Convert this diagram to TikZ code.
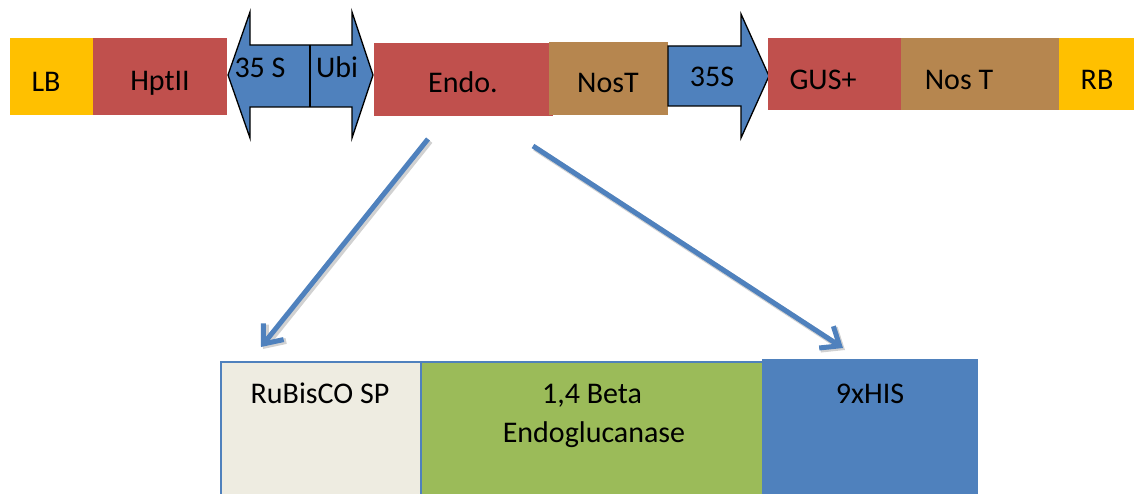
\documentclass[tikz,border=0pt]{standalone}
\usepackage{fontspec}
\setmainfont{Carlito}
\usetikzlibrary{arrows.meta}
\definecolor{cred}{HTML}{C0504D}
\definecolor{cgold}{HTML}{FFC000}
\definecolor{ctan}{HTML}{B6864F}
\definecolor{cblue}{HTML}{4F81BD}
\definecolor{cbeige}{HTML}{EEECE1}
\definecolor{cgreen}{HTML}{9BBB59}
\begin{document}
\begin{tikzpicture}[x=1pt,y=-1pt,
  seg/.style={draw=none, inner sep=0pt, outer sep=0pt, anchor=north west},
  txt/.style={font=\fontsize{30}{36}\selectfont, anchor=base, inner sep=0pt},
  prom/.style={draw=black, line width=1.3pt, fill=cblue, line join=miter},
  link/.style={draw=cblue, line width=5pt, -{Straight Barb[length=16pt,width=26pt]}},
  linkshadow/.style={draw=black, opacity=0.18, line width=6pt, -{Straight Barb[length=16pt,width=26pt]}},
  subbox/.style={seg, draw=cblue, line width=1.5pt, minimum height=140pt},
  ]
\useasboundingbox (0,0) rectangle (1134,494);
\clip (0,0) rectangle (1134,494);
% top construct
\node[seg, fill=cgold, minimum width=83pt, minimum height=77pt] (lb) at (10,38) {};
\node[seg, fill=cred, minimum width=134pt, minimum height=77pt] (hpt) at (93,38) {};
\draw[prom] (228,75) -- (250,12) -- (250,45) -- (352,45) -- (352,12) -- (373,75)
  -- (352,138) -- (352,107) -- (250,107) -- (250,138) -- cycle;
\draw[black, line width=1.3pt] (310,45) -- (310,107);
\node[seg, fill=cred, minimum width=179pt, minimum height=73pt] (endo) at (374,43) {};
\node[seg, fill=ctan, minimum width=119pt, minimum height=73pt] (nost) at (549,42) {};
\draw[prom] (668,46) -- (741,46) -- (741,14) -- (769,76) -- (741,138) -- (741,106) -- (668,106) -- cycle;
\node[seg, fill=cred, minimum width=133pt, minimum height=72pt] (gus) at (768,38) {};
\node[seg, fill=ctan, minimum width=158pt, minimum height=72pt] (nost2) at (901,38) {};
\node[seg, fill=cgold, minimum width=80pt, minimum height=72pt] (rb) at (1059,38) {};
% top labels
\node[txt] (tlb) at (46,92) {LB};
\node[txt] (thpt) at (160,91) {HptII};
\node[txt] (t35a) at (260,78) {35 S};
\node[txt] (tubi) at (337,78) {Ubi};
\node[txt] (tendo) at (463,93) {Endo.};
\node[txt] (tnost) at (608,93) {NosT};
\node[txt] (t35b) at (712,87) {35S};
\node[txt] (tgus) at (823,90) {GUS+};
\node[txt] (tnost2) at (959,90) {Nos T};
\node[txt] (trb) at (1097,90) {RB};
% bottom boxes
\node[subbox, fill=cbeige, minimum width=200pt] (rub) at (221,362) {};
\node[subbox, fill=cgreen, minimum width=342pt] (beta) at (421,362) {};
\node[subbox, fill=cblue, minimum width=214pt] (his) at (763,360) {};
\node[txt] (trub) at (320,403) {RuBisCO SP};
\node[txt] (tbeta1) at (592,403) {1,4 Beta};
\node[txt] (tbeta2) at (594,442) {Endoglucanase};
\node[txt] (this) at (870,403) {9xHIS};
% arrows
\coordinate (a1s) at (428,139);
\coordinate (a1e) at (261,347);
\coordinate (a2s) at (533,146);
\coordinate (a2e) at (843,348);
\draw[linkshadow] ([shift={(2,2)}]a1s) -- ([shift={(2,2)}]a1e);
\draw[linkshadow] ([shift={(2,2)}]a2s) -- ([shift={(2,2)}]a2e);
\draw[link] (a1s) -- (a1e);
\draw[link] (a2s) -- (a2e);
\end{tikzpicture}
\end{document}
